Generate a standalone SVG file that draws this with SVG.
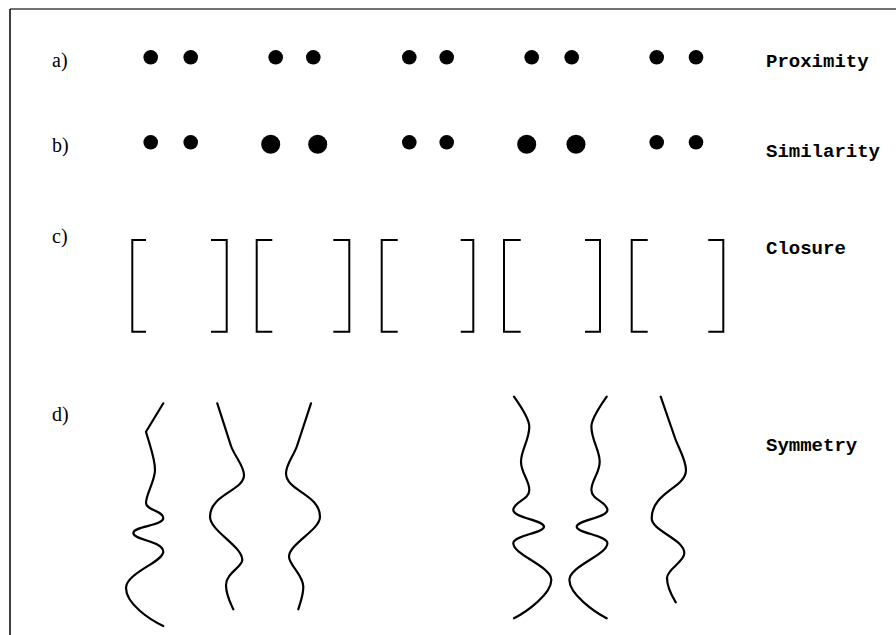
<svg xmlns="http://www.w3.org/2000/svg" width="896" height="635" viewBox="0 0 896 635">
<style>
.lbl{font-family:"Liberation Serif","Times New Roman",serif;font-size:20px;fill:#000}
.name{font-family:"Liberation Mono","Courier New",monospace;font-size:19px;font-weight:bold;fill:#000}
.br{fill:none;stroke:#000;stroke-width:2}
.cv{fill:none;stroke:#000;stroke-width:2.2;stroke-linecap:round;stroke-linejoin:round}
</style>
<rect width="896" height="635" fill="#fff"/>
<g id="frame">
<line x1="10" y1="9" x2="896" y2="9" stroke="#444" stroke-width="1.5"/>
<line x1="10" y1="9" x2="10" y2="635" stroke="#000" stroke-width="1.5"/>
</g>
<g id="proximity">
<text class="lbl" x="52" y="67">a)</text>
<circle cx="150.7" cy="57.3" r="7.3"/><circle cx="190.7" cy="57.3" r="7.3"/>
<circle cx="275.7" cy="57.3" r="7.3"/><circle cx="313.3" cy="57.3" r="7.3"/>
<circle cx="409.3" cy="57.3" r="7.3"/><circle cx="446.7" cy="57.3" r="7.3"/>
<circle cx="531.7" cy="57.3" r="7.3"/><circle cx="571.7" cy="57.3" r="7.3"/>
<circle cx="656.7" cy="57.3" r="7.3"/><circle cx="696" cy="57.3" r="7.3"/>
<text class="name" x="766" y="67">Proximity</text>
</g>
<g id="similarity">
<text class="lbl" x="52" y="152">b)</text>
<circle cx="150.7" cy="142.3" r="7.3"/><circle cx="190.7" cy="142.3" r="7.3"/>
<circle cx="270.7" cy="144.3" r="9.5"/><circle cx="317.7" cy="144.3" r="9.5"/>
<circle cx="409.3" cy="142.3" r="7.3"/><circle cx="446.7" cy="142.3" r="7.3"/>
<circle cx="526.7" cy="144.3" r="9.5"/><circle cx="576" cy="144.3" r="9.5"/>
<circle cx="656.7" cy="142.3" r="7.3"/><circle cx="696" cy="142.3" r="7.3"/>
<text class="name" x="766" y="157">Similarity</text>
</g>
<g id="closure">
<text class="lbl" x="52" y="243">c)</text>
<path class="br" d="M146,240 H132.3 V331.7 H146"/>
<path class="br" d="M211,240 H226.7 V331.7 H211"/>
<path class="br" d="M272.3,240 H256.7 V331.7 H272.3"/>
<path class="br" d="M333.3,240 H349.3 V331.7 H333.3"/>
<path class="br" d="M397.7,240 H381.7 V331.7 H397.7"/>
<path class="br" d="M460.7,240 H473.3 V331.7 H460.7"/>
<path class="br" d="M520.7,240 H504 V331.7 H520.7"/>
<path class="br" d="M585,240 H600 V331.7 H585"/>
<path class="br" d="M647.7,240 H631.7 V331.7 H647.7"/>
<path class="br" d="M708.3,240 H723.3 V331.7 H708.3"/>
<text class="name" x="766" y="254">Closure</text>
</g>
<g id="symmetry">
<text class="lbl" x="52" y="421">d)</text>
<path class="cv" d="M163.3,403.3 L146,431.7 C149.4,444.3 155,458 155,470 C155,481 146,494 146,503 C146,510 163.3,511 163.3,518 C163.3,526 133.3,526 133.3,533 C133.3,540 163.3,541 163.3,551.7 C163.3,562 126,573 126,588 C126,604 150.3,620 163.3,626"/>
<path class="cv" d="M217.3,403.3 L231,446 C234.2,455.5 244,466 244,475 C244,491 210,494 210,516.7 C210,531 242.3,546 242.3,560 C242.3,567 226,573 226,585 C226,595 230,602 233.3,609.3"/>
<path class="cv" d="M311,403.3 L297,446 C293.8,455.5 286,464.3 286,473.3 C286,491 320,494 320,516.7 C320,530 289,544 289,556.7 C289,565 303.3,575 303.3,586.7 C303.3,596 300,603 298.3,609.3"/>
<path class="cv" d="M514,396.7 C519.7,404.9 529.3,418 529.3,426.7 C529.3,440 521,450 521,461.7 C521,473 529.3,480 529.3,490 C529.3,500 513.3,502 513.3,510 C513.3,518 544,520 544,526.7 C544,533 513.3,535.5 513.3,543.3 C513.3,555 551.3,566 551.3,580 C551.3,594 527,611.6 514,618.3"/>
<path class="cv" transform="translate(1120.7,0) scale(-1,1)" d="M514,396.7 C519.7,404.9 529.3,418 529.3,426.7 C529.3,440 521,450 521,461.7 C521,473 529.3,480 529.3,490 C529.3,500 513.3,502 513.3,510 C513.3,518 544,520 544,526.7 C544,533 513.3,535.5 513.3,543.3 C513.3,555 551.3,566 551.3,580 C551.3,594 527,611.6 514,618.3"/>
<path class="cv" d="M660.7,396.7 L675,438 C678.3,447.5 686,460 686,470 C686,488 651.7,492 651.7,518.3 C651.7,531 684.3,539 684.3,553.3 C684.3,562 667,569 667,578 C667,588 672,596 675.7,602.3"/>
<text class="name" x="766" y="451">Symmetry</text>
</g>
</svg>
